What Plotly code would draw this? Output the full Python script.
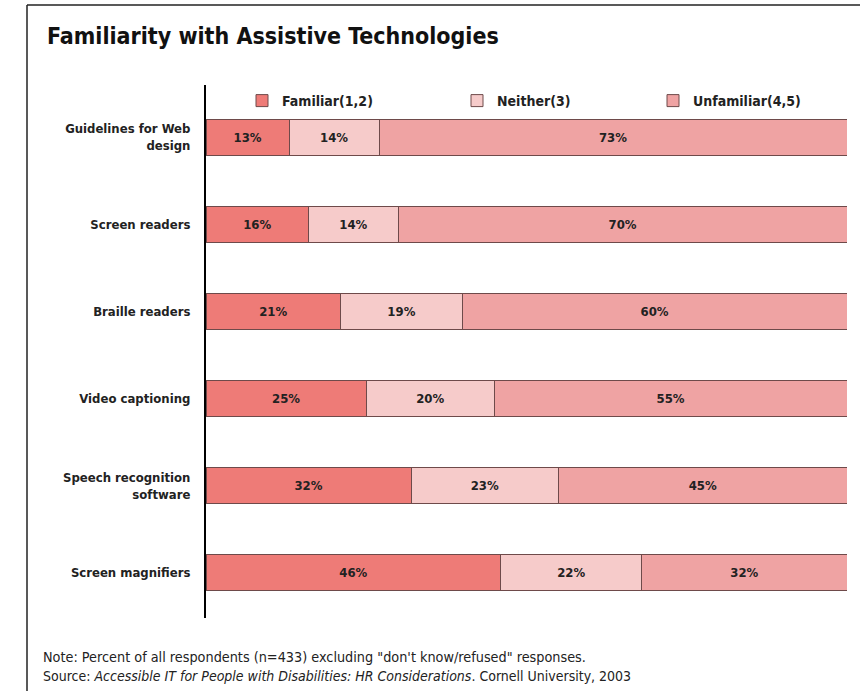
import plotly.graph_objects as go

categories = ["Guidelines for Web<br>design", "Screen readers", "Braille readers",
              "Video captioning", "Speech recognition<br>software", "Screen magnifiers"]
familiar = [13, 16, 21, 25, 32, 46]
neither = [14, 14, 19, 20, 23, 22]
unfamiliar = [73, 70, 60, 55, 45, 32]
series_names = ["Familiar(1,2)", "Neither(3)", "Unfamiliar(4,5)"]
colors = ["#EE7B77", "#F6CBCA", "#EFA3A3"]

FONT = "DejaVu Sans Condensed, Liberation Sans Narrow, sans-serif"

W, H = 860, 691
L, R, T, B = 206, 13, 85, 73
pw, ph = W - L - R, H - T - B

def px(x):
    return (x - L) / pw

def py(y):
    return (H - B - y) / ph

legend_ids = ["legend", "legend2", "legend3"]
legend_left = [242, 457, 653]

fig = go.Figure()
for name, vals, col, lid in zip(series_names, [familiar, neither, unfamiliar], colors, legend_ids):
    fig.add_trace(go.Bar(
        y=categories, x=vals, name=name, orientation="h", legend=lid,
        marker=dict(color=col, line=dict(color="#6E4A4A", width=1)),
        text=[f"{v}%" for v in vals], textposition="inside",
        insidetextanchor="middle",
        textfont=dict(family=FONT, size=13, color="#222222", weight="bold"),
        hoverinfo="skip",
    ))

legend_style = dict(orientation="h", yanchor="middle", xanchor="left", itemwidth=30,
                    font=dict(family=FONT, size=14, color="#222222", weight="bold"),
                    bgcolor="rgba(0,0,0,0)")

fig.update_layout(
    width=W, height=H,
    barmode="stack", bargap=0.585,
    margin=dict(l=L, r=R, t=T, b=B),
    plot_bgcolor="white", paper_bgcolor="white",
    showlegend=True,
    legend=dict(x=px(legend_left[0]), y=py(101), **legend_style),
    legend2=dict(x=px(legend_left[1]), y=py(101), **legend_style),
    legend3=dict(x=px(legend_left[2]), y=py(101), **legend_style),
    xaxis=dict(range=[0, 100], visible=False, fixedrange=True),
    yaxis=dict(range=[5.52, -0.6], showline=True, linecolor="black", linewidth=2,
               ticks="", showgrid=False, ticklabelstandoff=11,
               tickfont=dict(family=FONT, size=13, color="#222222", weight="bold")),
    font=dict(family=FONT),
)

# title
fig.add_annotation(text="Familiarity with Assistive Technologies", xref="paper", yref="paper",
                   x=px(45), y=py(36), xanchor="left", yanchor="middle", showarrow=False,
                   font=dict(family=FONT, size=23, color="#111111", weight="bold"))
# notes
fig.add_annotation(text='Note: Percent of all respondents (n=433) excluding "don\'t know/refused" responses.',
                   xref="paper", yref="paper", x=px(41), y=py(657), xanchor="left", yanchor="middle",
                   showarrow=False, font=dict(family=FONT, size=14.3, color="#222222"))
fig.add_annotation(text="Source: <i>Accessible IT for People with Disabilities: HR Considerations</i>. Cornell University, 2003",
                   xref="paper", yref="paper", x=px(41), y=py(676), xanchor="left", yanchor="middle",
                   showarrow=False, font=dict(family=FONT, size=14, color="#222222"))

# frame
fig.add_shape(type="line", xref="paper", yref="paper", x0=px(27), x1=px(865), y0=py(5), y1=py(5),
              line=dict(color="#222222", width=1.5))
fig.add_shape(type="line", xref="paper", yref="paper", x0=px(27), x1=px(27), y0=py(5), y1=py(695),
              line=dict(color="#222222", width=1.5))

fig.write_html("out.html")
